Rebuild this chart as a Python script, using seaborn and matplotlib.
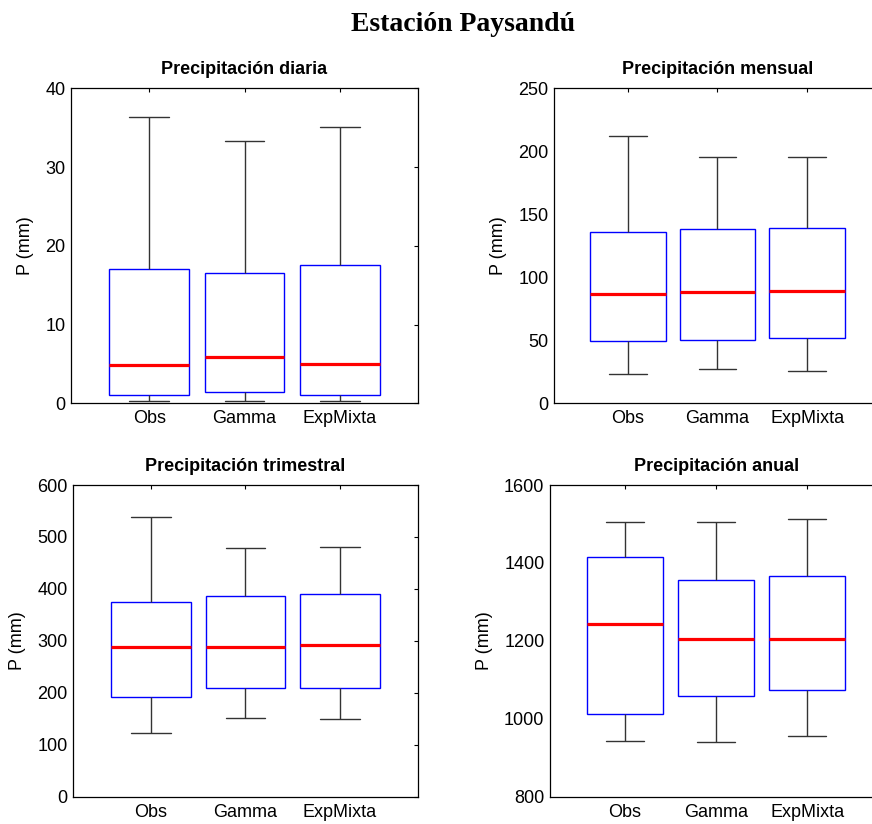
import matplotlib

matplotlib.use("Agg")
import matplotlib.pyplot as plt
import pandas as pd
import seaborn as sns


SERIES = ["Obs", "Gamma", "ExpMixta"]

# five-number summaries per series: [min, Q1, mediana, Q3, max]
DIARIA = {
    "Obs": [0.34, 1.06, 4.8, 17.1, 36.3],
    "Gamma": [0.34, 1.44, 5.9, 16.55, 33.3],
    "ExpMixta": [0.34, 1.06, 5.0, 17.6, 35.1],
}
MENSUAL = {
    "Obs": [23.4, 49.4, 87.0, 136.1, 212.0],
    "Gamma": [26.8, 50.2, 88.1, 138.3, 195.6],
    "ExpMixta": [25.7, 51.5, 89.4, 139.3, 195.6],
}
TRIMESTRAL = {
    "Obs": [123.6, 192.5, 289.0, 375.4, 538.0],
    "Gamma": [151.3, 208.6, 289.0, 387.0, 479.0],
    "ExpMixta": [148.7, 208.6, 292.3, 389.5, 481.6],
}
ANUAL = {
    "Obs": [943.9, 1011.6, 1242.8, 1415.0, 1505.8],
    "Gamma": [939.6, 1059.5, 1206.0, 1356.7, 1506.0],
    "ExpMixta": [955.0, 1074.0, 1206.0, 1365.3, 1511.8],
}

TITLES = [
    "Precipitación diaria",
    "Precipitación mensual",
    "Precipitación trimestral",
    "Precipitación anual",
]
Y_LIMITS = [(0, 40), (0, 250), (0, 600), (800, 1600)]
Y_TICKS = [
    [0, 10, 20, 30, 40],
    [0, 50, 100, 150, 200, 250],
    [0, 100, 200, 300, 400, 500, 600],
    [800, 1000, 1200, 1400, 1600],
]

# axes rectangles in figure fraction (right column runs past the edge)
AXES_RECTS = [
    [0.0814, 0.5106, 0.398, 0.3823],
    [0.6353, 0.5106, 0.375, 0.3823],
    [0.0837, 0.0331, 0.3956, 0.3783],
    [0.6307, 0.0331, 0.381, 0.3783],
]


def to_long(summary: dict) -> pd.DataFrame:
    rows = []
    for name in SERIES:
        for value in summary[name]:
            rows.append({"serie": name, "P": value})
    return pd.DataFrame(rows)


def configure_style() -> None:
    sns.set_theme(style="white")
    plt.rcParams["font.family"] = ["Liberation Sans", "DejaVu Sans"]
    plt.rcParams["text.color"] = "black"
    plt.rcParams["axes.labelcolor"] = "black"
    plt.rcParams["axes.titlecolor"] = "black"
    plt.rcParams["axes.edgecolor"] = "black"
    plt.rcParams["axes.linewidth"] = 0.9
    plt.rcParams["xtick.direction"] = "in"
    plt.rcParams["ytick.direction"] = "in"


def draw(ax: plt.Axes, df: pd.DataFrame, title: str, ylim, yticks) -> None:
    sns.boxplot(
        data=df,
        x="serie",
        y="P",
        order=SERIES,
        width=0.84,
        whis=(0, 100),
        ax=ax,
        boxprops=dict(facecolor="white", edgecolor="blue", linewidth=1.0),
        whiskerprops=dict(color="#333333", linewidth=1.0),
        capprops=dict(color="#333333", linewidth=1.0),
        medianprops=dict(color="red", linewidth=2.3),
        showfliers=False,
    )
    ax.set_xlim(-0.825, 2.825)
    ax.set_ylim(*ylim)
    ax.set_yticks(yticks)
    ax.set_xlabel("")
    ax.set_ylabel("P (mm)", fontsize=13, labelpad=8)
    ax.set_title(title, fontsize=13, fontweight="bold", pad=10)
    ax.tick_params(axis="both", labelsize=13, length=3, width=0.8,
                   top=True, right=True, colors="black")
    ax.tick_params(axis="x", pad=5)
    ax.tick_params(axis="y", pad=4)
    for spine in ax.spines.values():
        spine.set_visible(True)
        spine.set_color("black")


def main() -> None:
    configure_style()
    fig = plt.figure(figsize=(8.72, 8.24), dpi=100)
    datasets = [DIARIA, MENSUAL, TRIMESTRAL, ANUAL]
    for rect, data, title, ylim, yticks in zip(AXES_RECTS, datasets, TITLES, Y_LIMITS, Y_TICKS):
        ax = fig.add_axes(rect)
        draw(ax, to_long(data), title, ylim, yticks)

    fig.text(0.531, 1 - 30.7 / 824, "Estación Paysandú", ha="center", va="baseline",
             fontsize=20, fontweight="bold", family=["Liberation Serif", "DejaVu Serif"])
    fig.savefig("out.png", dpi=100, facecolor="white")
    plt.close(fig)


if __name__ == "__main__":
    main()
